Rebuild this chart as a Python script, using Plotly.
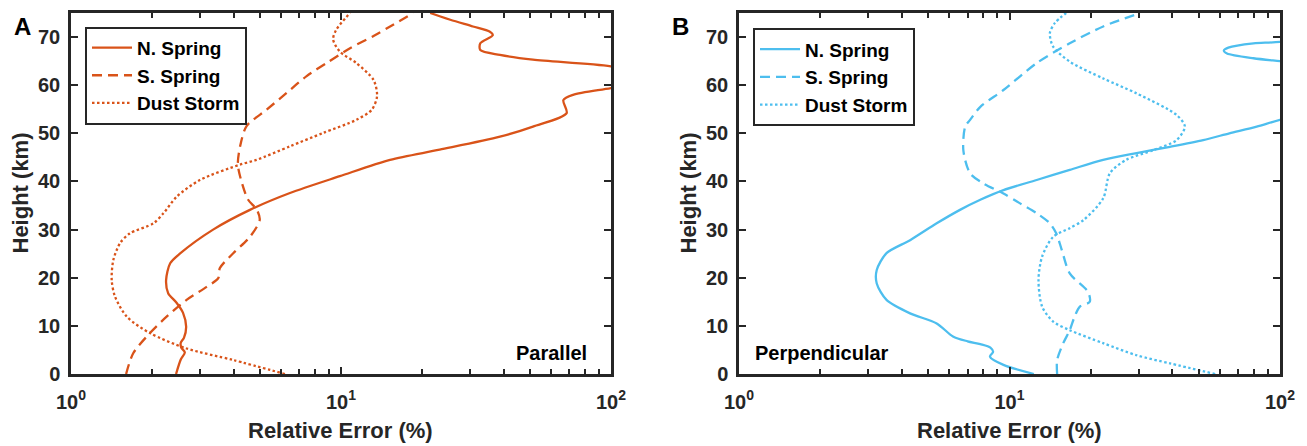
import plotly.graph_objects as go

# ---------------- data ----------------
heights_label = "Height (km)"
xlabel = "Relative Error (%)"
series_names = ["N. Spring", "S. Spring", "Dust Storm"]

# Panel A (Parallel)
A_north_h = [0, 3, 4.5, 5.5, 6.5, 7.5, 9.8, 12.7, 14.8, 16.8, 19.5, 23, 25, 30, 34.1, 37.6, 41.1, 44.5, 46.6, 49.3, 51.4, 54.2, 56.9, 58.0, 59.4, 61.5, 63.9, 65.3, 66.3, 67.3, 68.7, 70.4, 71.1, 72.2, 73.6, 75]
A_north_x = [2.45, 2.55, 2.64, 2.56, 2.55, 2.62, 2.67, 2.6, 2.46, 2.29, 2.25, 2.33, 2.53, 3.36, 4.6, 6.47, 9.9, 15.2, 23.2, 38.8, 51.4, 68.5, 66.6, 72.4, 100, 160, 100, 51.4, 38.8, 32.8, 32.8, 36.5, 35.6, 30.8, 25.4, 21.4]

A_south_h = [0, 4.3, 8.5, 11.9, 15.4, 18.1, 19.9, 22, 25.1, 28.5, 32, 34.1, 36.2, 39.6, 43.5, 47.3, 51.5, 54.9, 58.4, 61.9, 64.6, 67.7, 70.2, 72.2, 75]
A_south_x = [1.6, 1.70, 1.96, 2.26, 2.68, 3.18, 3.51, 3.56, 3.99, 4.6, 5.0, 4.88, 4.53, 4.3, 4.15, 4.23, 4.47, 5.3, 6.29, 7.46, 8.85, 10.8, 13.2, 15.2, 18.5]

A_dust_h = [0, 2.9, 5.3, 8.5, 11.9, 16.1, 19.5, 23.7, 27.2, 29.2, 31.3, 33.4, 36.8, 40.3, 43.5, 44.5, 47.3, 50.1, 52.8, 54.9, 57.7, 61.1, 64.6, 67.0, 69.5, 71.5, 75]
A_dust_x = [6.2, 3.99, 2.68, 1.96, 1.61, 1.455, 1.415, 1.435, 1.52, 1.65, 2.02, 2.2, 2.46, 3.0, 4.23, 4.87, 6.47, 8.6, 11.4, 13.0, 13.6, 13.2, 11.4, 9.9, 9.35, 9.6, 10.8]

# Panel B (Perpendicular)
B_north_h = [0, 1.9, 3.6, 4.6, 5.5, 6.2, 6.8, 7.8, 10.5, 12.6, 15.4, 18.8, 21.6, 25.1, 27.8, 31.3, 34.1, 36.2, 38.2, 40.3, 42.4, 44.5, 45.9, 47.2, 48.6, 50, 51.4, 52.8, 58, 64, 65, 65.6, 66.6, 67.2, 67.8, 68.7, 69, 72, 75]
B_north_x = [12.3, 9.5, 8.47, 8.7, 8.5, 7.8, 7.0, 6.18, 5.38, 4.29, 3.51, 3.23, 3.23, 3.51, 4.29, 5.38, 6.56, 7.8, 9.5, 12.6, 16.7, 22.2, 29.5, 39.2, 52, 65, 82, 100, 250, 150, 100, 79.8, 63.7, 62, 64.4, 79.8, 100, 200, 300]

B_south_h = [0, 2.9, 6.4, 9.1, 11.9, 14, 15, 17.1, 20.9, 25.8, 29.2, 31.3, 33.4, 35.5, 37.5, 39.6, 41.7, 46.5, 51.4, 52.8, 55.5, 59, 64.6, 68.7, 72.2, 75]
B_south_x = [15.0, 15.0, 15.8, 16.7, 17.4, 18.2, 19.8, 19.5, 16.7, 15.6, 14.9, 14.1, 12.6, 10.9, 9.5, 8.0, 7.15, 6.75, 6.86, 7.15, 7.8, 9.5, 12.6, 16.7, 22.2, 30.4]

B_dust_h = [0, 2.2, 3.9, 6.4, 9.1, 10.9, 14, 19.5, 24.4, 28.5, 30.3, 32, 36.5, 41.7, 44.5, 46.5, 48.6, 51.4, 53.8, 58.3, 61.4, 64.9, 68, 70.8, 72.9, 75]
B_dust_x = [57.6, 39.2, 29.5, 22.2, 16.7, 14.5, 13.2, 12.8, 13.2, 14.5, 16.7, 18.8, 22.2, 23.5, 27, 34, 41.5, 44.5, 41.5, 29.5, 22.2, 16.7, 14.5, 14.1, 14.7, 16.2]

x_tickvals = [1, 10, 100]
x_ticktext = ["10<sup>0</sup>", "10<sup>1</sup>", "10<sup>2</sup>"]
x_minor = [2, 3, 4, 5, 6, 7, 8, 9, 20, 30, 40, 50, 60, 70, 80, 90]
y_tickvals = [0, 10, 20, 30, 40, 50, 60, 70]

ORANGE = "#D95319"
BLUE = "#4DBEEE"
AX = "#262626"
FONT = "Liberation Sans, Arial, Helvetica, sans-serif"
W, H = 1307, 446

dashes = ["solid", "10px,6px", "2.5px,2.5px"]

fig = go.Figure()
panels = [
    ("x", "y", "legend", ORANGE, [(A_north_x, A_north_h), (A_south_x, A_south_h), (A_dust_x, A_dust_h)]),
    ("x2", "y2", "legend2", BLUE, [(B_north_x, B_north_h), (B_south_x, B_south_h), (B_dust_x, B_dust_h)]),
]
for xa, ya, lg, col, data in panels:
    for name, dash, (xs, hs) in zip(series_names, dashes, data):
        fig.add_trace(go.Scatter(
            x=xs, y=hs, name=name, mode="lines", xaxis=xa, yaxis=ya, legend=lg,
            line=dict(color=col, width=2.3, dash=dash, shape="spline", smoothing=0.8),
        ))

# pixel geometry helpers
def px_x(p):
    return p / W

def px_y(p):
    return 1 - p / H

ydom = [px_y(374), px_y(13)]
xdomA = [px_x(71), px_x(611)]
xdomB = [px_x(739), px_x(1280)]

def xaxis_style(dom, anchor):
    return dict(
        type="log", range=[0, 2], domain=dom, anchor=anchor, automargin=False,
        showline=True, linecolor=AX, linewidth=2.5, mirror="ticks",
        ticks="inside", ticklen=7, tickwidth=2, tickcolor=AX,
        tickmode="array", tickvals=x_tickvals, ticktext=x_ticktext,
        minor=dict(ticks="inside", ticklen=5, tickwidth=2, tickcolor=AX,
                   tickmode="array", tickvals=x_minor, showgrid=False),
        showgrid=False, zeroline=False,
        tickfont=dict(family=FONT, size=20, color=AX, weight="bold"),
        ticklabelstandoff=8,
    )

def yaxis_style(anchor):
    return dict(
        range=[0, 75], domain=ydom, anchor=anchor, automargin=False,
        showline=True, linecolor=AX, linewidth=2.5, mirror="ticks",
        ticks="inside", ticklen=7, tickwidth=2, tickcolor=AX,
        tickmode="array", tickvals=y_tickvals,
        showgrid=False, zeroline=False,
        tickfont=dict(family=FONT, size=20, color=AX, weight="bold"),
        ticklabelstandoff=4,
    )

legend_common = dict(
    bgcolor="white", bordercolor=AX, borderwidth=2,
    font=dict(family=FONT, size=19, color="black", weight="bold"),
    xanchor="left", yanchor="top", tracegroupgap=0, itemwidth=40,
)

fig.update_layout(
    width=W, height=H, margin=dict(l=0, r=0, t=0, b=0, pad=0, autoexpand=False),
    paper_bgcolor="white", plot_bgcolor="white",
    xaxis=xaxis_style(xdomA, "y"),
    yaxis=yaxis_style("x"),
    xaxis2=xaxis_style(xdomB, "y2"),
    yaxis2=yaxis_style("x2"),
    legend=dict(x=px_x(85), y=px_y(26.7), **legend_common),
    legend2=dict(x=px_x(753), y=px_y(28.3), **legend_common),
    showlegend=True,
)

title_font = dict(family=FONT, size=22, color=AX, weight="bold")
ann = []
for (x0, x1) in [(71, 611), (739, 1280)]:
    ann.append(dict(text=xlabel, x=px_x((x0 + x1) / 2), y=px_y(430), xref="paper", yref="paper",
                    showarrow=False, xanchor="center", yanchor="middle", font=title_font))
for xc in [20, 688]:
    ann.append(dict(text=heights_label, x=px_x(xc), y=px_y(193.5), xref="paper", yref="paper",
                    showarrow=False, xanchor="center", yanchor="middle", textangle=-90, font=title_font))
ann.append(dict(text="A", x=px_x(22.5), y=px_y(27), xref="paper", yref="paper", showarrow=False,
                xanchor="center", yanchor="middle", font=dict(family=FONT, size=24, color="black", weight="bold")))
ann.append(dict(text="B", x=px_x(680.5), y=px_y(26.5), xref="paper", yref="paper", showarrow=False,
                xanchor="center", yanchor="middle", font=dict(family=FONT, size=24, color="black", weight="bold")))
ann.append(dict(text="Parallel", x=px_x(589), y=px_y(353), xref="paper", yref="paper", showarrow=False,
                xanchor="right", yanchor="middle", font=dict(family=FONT, size=20, color="black", weight="bold")))
ann.append(dict(text="Perpendicular", x=px_x(752.7), y=px_y(353), xref="paper", yref="paper", showarrow=False,
                xanchor="left", yanchor="middle", font=dict(family=FONT, size=20, color="black", weight="bold")))
fig.update_layout(annotations=ann)

# remove the browser's default page margin so the figure sits at the window's top-left corner
fig.write_html("out.html",
               config={"displayModeBar": False},
               post_script="document.body.style.margin='0px';document.body.style.padding='0px';")
